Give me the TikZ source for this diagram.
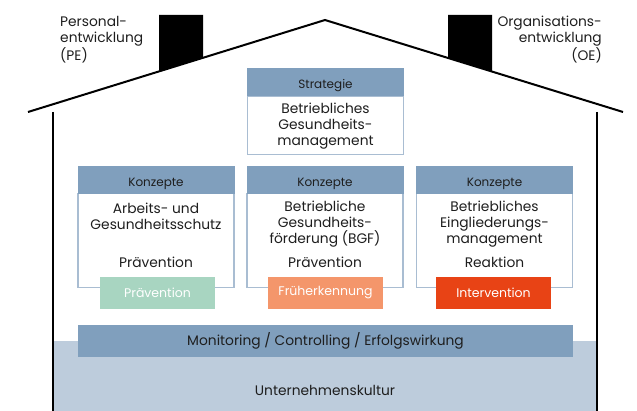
\documentclass[tikz,border=0pt]{standalone}
\usepackage{fontspec}
\setmainfont{Poppins}
\definecolor{hdrblue}{HTML}{809FBD}
\definecolor{edgeblue}{HTML}{A9BDD2}
\definecolor{bgblue}{HTML}{BDCCDC}
\definecolor{pgreen}{HTML}{A8D5C1}
\definecolor{porange}{HTML}{F4966B}
\definecolor{pred}{HTML}{E84315}
\definecolor{txtdark}{HTML}{1E1E1E}
\tikzset{
  hdr/.style={fill=hdrblue, draw=none, inner sep=0, text=txtdark, text height=12.5, text depth=0, font=\fontsize{12}{14}\selectfont},
  bodybox/.style={fill=white, draw=edgeblue, line width=1.2pt, inner sep=0},
  txt/.style={inner sep=0, align=center, text=txtdark, font=\fontsize{13.8}{16}\selectfont},
  tag/.style={draw=none, inner sep=0, text=white, minimum width=115, minimum height=32, font=\fontsize{12.5}{14}\selectfont},
  wall/.style={line width=2pt, black},
}
\begin{document}
\begin{tikzpicture}[x=1pt,y=-1pt]
\useasboundingbox (0,0) rectangle (637,411);
% background culture band
\fill[bgblue] (53,341) rectangle (597,411);
% chimneys
\fill[black] (159,15) -- (203,15) -- (203,57.8) -- (159,71.4) -- cycle;
\fill[black] (448,15) -- (492,15) -- (492,71.6) -- (448,58) -- cycle;
% roof and walls
\coordinate (roofL) at (28,112);
\coordinate (apex) at (325,20);
\coordinate (roofR) at (623,112);
\draw[wall, line join=miter] (roofL) -- (apex) -- (roofR);
\draw[wall] (53,112) -- (53,411);
\draw[wall] (597,112) -- (597,411);
% side labels
\node[inner sep=0, anchor=north west, align=left, text=txtdark, font=\fontsize{13.8}{16}\selectfont] (pe) at (60,16) {Personal-\\entwicklung\\(PE)};
\node[inner sep=0, anchor=north east, align=right, text=txtdark, font=\fontsize{13.8}{16}\selectfont] (oe) at (602,16) {Organisations-\\entwicklung\\(OE)};
% strategy box
\node[bodybox, minimum width=156, minimum height=58, anchor=north] (sb) at (325.5,96) {};
\node[hdr, minimum width=157, minimum height=28, anchor=north] (sh) at (325.5,68) {Strategie};
\node[txt] (st) at (325.5,126) {Betriebliches\\Gesundheits-\\management};
% concept boxes
\foreach \n/\cx in {a/156, b/325, c/494.5}{
  \node[bodybox, minimum width=156, minimum height=94, anchor=north] (\n b) at (\cx,193) {};
  \node[hdr, minimum width=157, minimum height=28, anchor=north] (\n h) at (\cx,166) {Konzepte};
}
\node[txt] (at) at (156,216) {Arbeits- und\\Gesundheitsschutz};
\node[txt] (ap) at (156,262) {Prävention};
\node[txt] (bt) at (325,224) {Betriebliche\\Gesundheits-\\förderung (BGF)};
\node[txt] (bp) at (325,262) {Prävention};
\node[txt] (ct) at (494.5,224) {Betriebliches\\Eingliederungs-\\management};
\node[txt] (cp) at (494.5,262) {Reaktion};
% tags
\node[tag, fill=pgreen] (ta) at (157.5,293) {Prävention};
\node[tag, fill=porange] (tb) at (325.5,293) {Früherkennung};
\node[tag, fill=pred] (tc) at (493.5,293) {Intervention};
% monitoring bar
\node[fill=hdrblue, inner sep=0, minimum width=495, minimum height=32, text=txtdark, font=\fontsize{13.8}{16}\selectfont] (mon) at (325.5,341) {Monitoring / Controlling / Erfolgswirkung};
\node[txt] (uk) at (325,390) {Unternehmenskultur};
\end{tikzpicture}
\end{document}
